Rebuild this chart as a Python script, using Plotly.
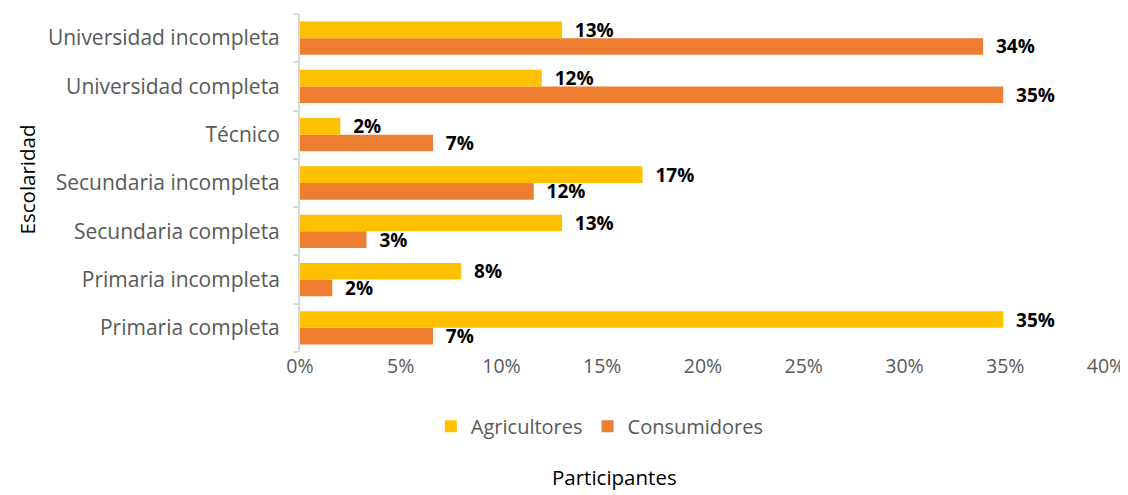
import plotly.graph_objects as go

categorias = ["Primaria completa", "Primaria incompleta", "Secundaria completa",
              "Secundaria incompleta", "Técnico", "Universidad completa",
              "Universidad incompleta"]
agricultores = [0.349, 0.080, 0.130, 0.170, 0.020, 0.120, 0.130]
consumidores = [0.066, 0.016, 0.033, 0.116, 0.066, 0.349, 0.339]
xticks = [0, 0.05, 0.10, 0.15, 0.20, 0.25, 0.30, 0.35, 0.40]
xticklabels = ["0%", "5%", "10%", "15%", "20%", "25%", "30%", "35%", "40%"]

FONT = "Open Sans"
GRAY = "#595959"
label_font = dict(family=FONT, size=19, color="#000000", weight="bold")

fig = go.Figure()
fig.add_trace(go.Bar(
    y=categorias, x=consumidores, orientation="h", name="Consumidores",
    marker=dict(color="#ED7D31", line=dict(width=0)),
    text=[f"{v:.0%}" for v in consumidores], texttemplate="  %{text}",
    textposition="outside", textfont=label_font, cliponaxis=False,
    constraintext="none",
))
fig.add_trace(go.Bar(
    y=categorias, x=agricultores, orientation="h", name="Agricultores",
    marker=dict(color="#FFC000", line=dict(width=0)),
    text=[f"{v:.0%}" for v in agricultores], texttemplate="  %{text}",
    textposition="outside", textfont=label_font, cliponaxis=False,
    constraintext="none",
))

# The page body adds an 8px margin, so the figure is sized to fit the window.
fig.update_layout(
    width=1120, height=487,
    margin=dict(l=292, r=22, t=6, b=143),
    paper_bgcolor="white", plot_bgcolor="white",
    barmode="group", bargap=0.31, bargroupgap=0,
    font=dict(family=FONT, color=GRAY, size=20),
    showlegend=True,
    legend=dict(orientation="h", traceorder="reversed", x=0.372, xanchor="center",
                y=-0.22, yanchor="middle", font=dict(size=20, color=GRAY),
                itemwidth=30, tracegroupgap=0),
    xaxis=dict(range=[0, 0.40], tickvals=xticks, ticktext=xticklabels,
               showgrid=False, zeroline=False, showline=False, automargin=False,
               ticks="", tickfont=dict(size=19.5, color=GRAY)),
    yaxis=dict(showgrid=False, zeroline=False, showline=True, linecolor="#D9D9D9",
               linewidth=2, ticks="outside", tickson="boundaries", ticklen=5,
               tickcolor="#D9D9D9", tickwidth=2, ticklabelstandoff=14,
               automargin=False, tickfont=dict(size=21, color=GRAY)),
    annotations=[
        dict(text="Participantes", xref="paper", yref="paper", x=0.39, y=-0.37,
             xanchor="center", yanchor="middle", showarrow=False,
             font=dict(size=20.5, color="#000000")),
        dict(text="Escolaridad", xref="paper", yref="paper",
             x=-0.339, xanchor="center", y=0.51, yanchor="middle", textangle=-90,
             showarrow=False, font=dict(size=20.5, color="#000000")),
    ],
)

fig.write_html("out.html")
